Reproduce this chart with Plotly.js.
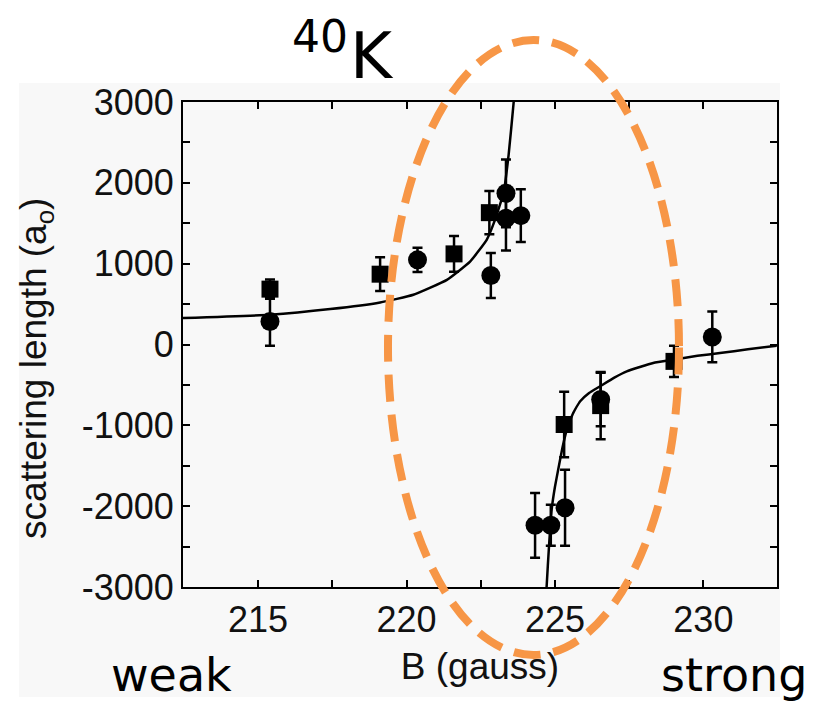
<!DOCTYPE html>
<html>
<head>
<meta charset="utf-8">
<script src="https://cdn.plot.ly/plotly-3.0.1.min.js"></script>
<style>html,body{margin:0;padding:0;background:#fff;}#chart{width:822px;height:707px;}</style>
</head>
<body>
<div id="chart"></div>
<script>
// Measured points (B in gauss, scattering length in a0)
const circleB   = [215.40, 220.37, 222.84, 223.35, 223.35, 223.85, 224.33, 224.86, 225.34, 226.54, 230.30];
const circleA   = [285, 1047, 853, 1870, 1562, 1594, -2237, -2237, -2019, -681, 93];
const circleErr = [300, 150, 278, 420, 400, 327, 400, 253, 470, 330, 314];

const squareB   = [215.40, 219.11, 221.60, 222.79, 225.31, 226.54, 229.01];
const squareA   = [685, 870, 1121, 1631, -990, -756, -209];
const squareErr = [120, 208, 220, 267, 405, 415, 194];

// Fit curve (two branches around the resonance)
const fitLeftB  = [212.47, 215.40, 217.43, 219.11, 220.23, 221.36, 222.14, 222.70, 222.98, 223.27, 223.44, 223.61, 223.65];
const fitLeftA  = [327, 368, 438, 520, 615, 800, 1026, 1294, 1541, 1880, 2350, 3000, 3200];
const fitRightB = [224.70, 224.72, 224.80, 224.89, 225.00, 225.11, 225.25, 225.40, 225.60, 225.85, 226.15, 226.52, 227.00, 227.42, 228.31, 228.99, 229.80, 230.56, 231.50, 232.47];
const fitRightA = [-3150, -2990, -2493, -2040, -1760, -1546, -1280, -1052, -860, -702, -600, -517, -410, -332, -228, -188, -140, -105, -60, -15];

const xTickVals = [215, 220, 225, 230];
const yTickVals = [-3000, -2000, -1000, 0, 1000, 2000, 3000];

const fitB = fitLeftB.concat([null], fitRightB);
const fitA = fitLeftA.concat([null], fitRightA);

const traces = [
  {x: fitB, y: fitA, type: 'scatter', mode: 'lines', connectgaps: false,
   line: {color: '#000', width: 2.5, shape: 'spline', smoothing: 0.4}, hoverinfo: 'skip', showlegend: false},
  {x: squareB, y: squareA, type: 'scatter', mode: 'markers', showlegend: false,
   marker: {symbol: 'square', size: 17, color: '#000'},
   error_y: {type: 'data', array: squareErr, visible: true, color: '#000', thickness: 2.5, width: 5}},
  {x: circleB, y: circleA, type: 'scatter', mode: 'markers', showlegend: false,
   marker: {symbol: 'circle', size: 19, color: '#000'},
   error_y: {type: 'data', array: circleErr, visible: true, color: '#000', thickness: 2.5, width: 5}}
];

const axisFont = {family: 'Liberation Sans, Arial, sans-serif', size: 36, color: '#111'};
const handFont = {family: 'DejaVu Sans, sans-serif', color: '#000'};

const layout = {
  width: 822, height: 707,
  margin: {l: 183, r: 45, t: 102, b: 120},
  paper_bgcolor: '#ffffff',
  plot_bgcolor: '#f8f8f8',
  showlegend: false,
  xaxis: {
    range: [212.47, 232.48], tickvals: xTickVals, ticktext: xTickVals.map(String),
    ticks: 'inside', ticklen: 7, tickwidth: 2, tickcolor: '#000',
    showline: true, linewidth: 2, linecolor: '#000', mirror: 'ticks',
    showgrid: false, zeroline: false, tickfont: axisFont,
    minor: {dtick: 2.5, tick0: 212.5, ticks: 'inside', ticklen: 7, tickwidth: 2, tickcolor: '#000', showgrid: false},
    title: {text: 'B (gauss)', font: {family: 'Liberation Sans, Arial, sans-serif', size: 37, color: '#111'}, standoff: 14}
  },
  yaxis: {
    range: [-3000, 3000], tickvals: yTickVals, ticktext: yTickVals.map(String),
    ticks: 'inside', ticklen: 7, tickwidth: 2, tickcolor: '#000',
    showline: true, linewidth: 2, linecolor: '#000', mirror: 'ticks',
    showgrid: false, zeroline: false, tickfont: axisFont,
    minor: {dtick: 500, tick0: 0, ticks: 'inside', ticklen: 7, tickwidth: 2, tickcolor: '#000', showgrid: false}
  },
  shapes: [
    {type: 'rect', xref: 'paper', yref: 'paper', x0: -0.2761, x1: 1.0051, y0: -0.2268, y1: 1.0392,
     fillcolor: '#f8f8f8', line: {width: 0}, layer: 'below'},
    {type: 'circle', xref: 'paper', yref: 'paper', x0: 0.3451, x1: 0.8350, y0: -0.1402, y1: 1.1278,
     line: {color: '#F79646', width: 8, dash: '27px,13px'}, layer: 'above'}
  ],
  annotations: [
    {text: 'scattering length (a<sub>o</sub>)', xref: 'paper', yref: 'paper', x: -0.2475, y: 0.4515,
     xanchor: 'center', yanchor: 'middle', textangle: -90, showarrow: false,
     font: {family: 'Liberation Sans, Arial, sans-serif', size: 37, color: '#111'}},
    {text: '40', xref: 'paper', yref: 'paper', x: (320 - 183) / 594, y: (587 - 36) / 485,
     xanchor: 'center', yanchor: 'middle', showarrow: false, font: Object.assign({size: 44}, handFont)},
    {text: 'K', xref: 'paper', yref: 'paper', x: (372 - 183) / 594, y: (587 - 56) / 485,
     xanchor: 'center', yanchor: 'middle', showarrow: false, font: Object.assign({size: 64}, handFont)},
    {text: 'weak', xref: 'paper', yref: 'paper', x: -0.0202, y: (587 - 675) / 485,
     xanchor: 'center', yanchor: 'middle', showarrow: false, font: Object.assign({size: 46}, handFont)},
    {text: 'strong', xref: 'paper', yref: 'paper', x: 0.9268, y: (587 - 675) / 485,
     xanchor: 'center', yanchor: 'middle', showarrow: false, font: Object.assign({size: 46}, handFont)}
  ]
};

Plotly.newPlot('chart', traces, layout, {displayModeBar: false, staticPlot: true});
</script>
</body>
</html>
